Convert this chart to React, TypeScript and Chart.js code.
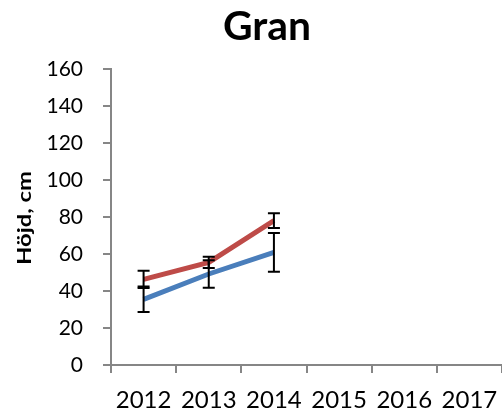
import React, { useEffect, useRef } from 'react';
import { Chart, registerables } from 'chart.js';

Chart.register(...registerables);

const categories = ['2012', '2013', '2014', '2015', '2016', '2017'];
const seriesBlue = [35.5, 49.2, 60.9, null, null, null];
const seriesRed = [46.3, 55.5, 78, null, null, null];
const errorBlue = [6.9, 7.4, 10.5, null, null, null];
const errorRed = [4.7, 3, 4, null, null, null];
const yMin = 0;
const yMax = 160;
const yStep = 20;
const titleText = 'Gran';
const yAxisTitle = 'Höjd, cm';

const errorBarPlugin = {
  id: 'errorBars',
  afterDatasetsDraw(chart: any) {
    const ctx = chart.ctx;
    const yScale = chart.scales.y;
    ctx.save();
    ctx.strokeStyle = '#000';
    ctx.lineWidth = 2;
    chart.data.datasets.forEach((ds: any, i: number) => {
      const meta = chart.getDatasetMeta(i);
      (ds.errors || []).forEach((e: number | null, j: number) => {
        const v = ds.data[j];
        if (e == null || v == null) return;
        const x = meta.data[j].x;
        const yt = yScale.getPixelForValue(v + e);
        const yb = yScale.getPixelForValue(v - e);
        const hw = 6;
        ctx.beginPath();
        ctx.moveTo(x, yt);
        ctx.lineTo(x, yb);
        ctx.moveTo(x - hw, yt);
        ctx.lineTo(x + hw, yt);
        ctx.moveTo(x - hw, yb);
        ctx.lineTo(x + hw, yb);
        ctx.stroke();
      });
    });
    ctx.restore();
  },
};

const textPlugin = {
  id: 'texts',
  afterDraw(chart: any) {
    const ctx = chart.ctx;
    ctx.save();
    ctx.fillStyle = '#000';
    ctx.textAlign = 'center';
    ctx.textBaseline = 'middle';
    // chart title
    ctx.font = 'bold 40px Lato';
    let w = ctx.measureText(titleText).width;
    ctx.translate(267, 27);
    ctx.scale(88 / w, 1);
    ctx.fillText(titleText, 0, 0);
    ctx.restore();
    // y axis title
    ctx.save();
    ctx.fillStyle = '#000';
    ctx.textAlign = 'center';
    ctx.textBaseline = 'middle';
    ctx.font = 'bold 18px Lato';
    w = ctx.measureText(yAxisTitle).width;
    ctx.translate(25, 218);
    ctx.rotate(-Math.PI / 2);
    ctx.scale(94 / w, 1);
    ctx.fillText(yAxisTitle, 0, 0);
    ctx.restore();
  },
};

export default function App() {
  const ref = useRef<HTMLCanvasElement>(null);
  useEffect(() => {
    const canvas = ref.current!;
    const axisColor = '#868686';
    const chart = new Chart(canvas, {
      type: 'line',
      data: {
        labels: categories,
        datasets: [
          {
            label: 'Serie 1',
            data: seriesBlue,
            borderColor: '#4A7EBB',
            backgroundColor: '#4A7EBB',
            borderWidth: 5,
            pointRadius: 0,
            tension: 0,
            errors: errorBlue,
          } as any,
          {
            label: 'Serie 2',
            data: seriesRed,
            borderColor: '#BE4B48',
            backgroundColor: '#BE4B48',
            borderWidth: 5,
            pointRadius: 0,
            tension: 0,
            errors: errorRed,
          } as any,
        ],
      },
      options: {
        responsive: false,
        animation: false,
        devicePixelRatio: 1,
        layout: { padding: { top: 69, left: 0, right: 0, bottom: 0 } },
        plugins: {
          legend: { display: false },
          title: { display: false },
          tooltip: { enabled: false },
        },
        scales: {
          x: {
            offset: true,
            grid: {
              offset: true,
              drawOnChartArea: false,
              color: axisColor,
              tickLength: 8,
              lineWidth: 2,
            },
            border: { color: axisColor, width: 2 },
            ticks: {
              font: { family: 'Lato', size: 24 },
              color: '#000',
              padding: 13,
              maxRotation: 0,
              autoSkip: false,
            },
            afterFit: (s: any) => {
              s.height = 52;
              s.paddingLeft = 0;
              s.paddingRight = 0;
            },
          },
          y: {
            min: yMin,
            max: yMax,
            ticks: {
              stepSize: yStep,
              font: { family: 'Lato', size: 21 },
              color: '#000',
              padding: 20,
            },
            grid: {
              drawOnChartArea: false,
              color: axisColor,
              tickLength: 8,
              lineWidth: 2,
            },
            border: { color: axisColor, width: 2 },
            afterFit: (s: any) => {
              s.width = 111;
            },
          },
        },
      } as any,
      plugins: [errorBarPlugin, textPlugin],
    });
    return () => chart.destroy();
  }, []);
  return (
    <div style={{ position: 'fixed', left: 0, top: 0, width: 502, height: 417, background: '#fff' }}>
      <canvas ref={ref} width={502} height={417} style={{ display: 'block', width: 502, height: 417 }} />
    </div>
  );
}
